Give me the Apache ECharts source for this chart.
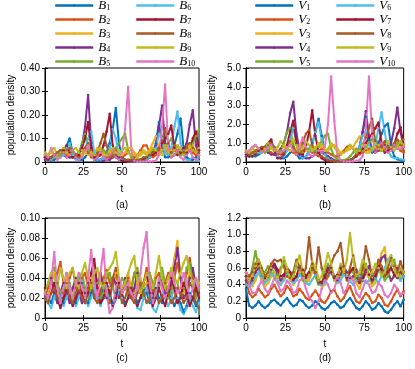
<!DOCTYPE html>
<html lang="en">
<head>
	<meta charset="UTF-8">
	<title>population density</title>
	<style>
		html, body { margin: 0; padding: 0; background: #fff; }
		#box { width: 415px; height: 369px; }
	</style>
</head>
<body>
	<div id="box"></div>
	<script src="https://cdn.jsdelivr.net/npm/echarts@6/dist/echarts.min.js"></script>
	<script>
		// time points
		var T = [0,2,4,6,8,10,12,14,16,18,20,22,24,26,28,30,32,34,36,38,40,42,44,46,48,50,52,54,56,58,60,62,64,66,68,70,72,74,76,78,80,82,84,86,88,90,92,94,96,98,100];

		// (a) B, first case
		var a1 = [0.02,0.01,0.005,0.01,0.02,0.03,0.04,0.07,0.10,0.04,0.02,0.01,0.01,0.02,0.04,0.03,0.01,0.005,0.01,0.02,0.04,0.08,0.14,0.23,0.08,0.02,0.01,0.005,0.003,0.002,0.002,0.003,0.005,0.01,0.02,0.03,0.08,0.17,0.06,0.02,0.02,0.04,0.07,0.12,0.185,0.06,0.02,0.01,0.01,0.02,0.03];
		var a2 = [0.03,0.02,0.01,0.02,0.03,0.04,0.05,0.03,0.02,0.02,0.03,0.04,0.05,0.06,0.04,0.02,0.02,0.03,0.05,0.04,0.02,0.02,0.03,0.05,0.03,0.02,0.03,0.04,0.03,0.02,0.03,0.05,0.07,0.07,0.04,0.02,0.03,0.05,0.06,0.04,0.03,0.05,0.07,0.05,0.03,0.04,0.07,0.08,0.04,0.03,0.05];
		var a3 = [0.02,0.03,0.04,0.03,0.02,0.03,0.04,0.05,0.04,0.03,0.03,0.04,0.05,0.04,0.03,0.03,0.04,0.06,0.05,0.03,0.03,0.04,0.05,0.06,0.05,0.03,0.04,0.06,0.06,0.04,0.03,0.04,0.05,0.04,0.05,0.08,0.11,0.06,0.03,0.04,0.06,0.05,0.03,0.04,0.06,0.05,0.04,0.06,0.07,0.04,0.03];
		var a4 = [0.01,0.01,0.02,0.03,0.04,0.05,0.03,0.02,0.02,0.02,0.03,0.04,0.07,0.15,0.285,0.08,0.02,0.01,0.005,0.005,0.01,0.01,0.02,0.03,0.02,0.01,0.005,0.003,0.002,0.002,0.002,0.003,0.005,0.01,0.02,0.04,0.07,0.15,0.24,0.08,0.03,0.02,0.03,0.05,0.04,0.05,0.08,0.16,0.22,0.07,0.03];
		var a5 = [0.03,0.02,0.02,0.03,0.04,0.03,0.03,0.05,0.06,0.04,0.03,0.04,0.08,0.12,0.05,0.03,0.02,0.02,0.03,0.05,0.04,0.03,0.04,0.06,0.08,0.10,0.12,0.05,0.02,0.01,0.01,0.01,0.01,0.02,0.03,0.05,0.04,0.03,0.05,0.07,0.08,0.10,0.06,0.04,0.03,0.05,0.04,0.05,0.08,0.11,0.14];
		var a6 = [0.02,0.01,0.01,0.02,0.03,0.02,0.03,0.06,0.08,0.03,0.01,0.01,0.02,0.05,0.10,0.13,0.04,0.01,0.01,0.02,0.03,0.06,0.14,0.10,0.03,0.01,0.005,0.003,0.002,0.002,0.002,0.003,0.005,0.01,0.02,0.03,0.06,0.12,0.10,0.04,0.03,0.06,0.15,0.215,0.08,0.03,0.01,0.01,0.02,0.01,0.005];
		var a7 = [0.02,0.01,0.02,0.03,0.03,0.04,0.05,0.07,0.04,0.02,0.02,0.03,0.06,0.10,0.17,0.06,0.02,0.02,0.03,0.07,0.13,0.205,0.07,0.02,0.01,0.005,0.003,0.003,0.003,0.003,0.005,0.01,0.01,0.02,0.03,0.03,0.04,0.06,0.08,0.10,0.12,0.155,0.06,0.03,0.04,0.06,0.04,0.05,0.10,0.13,0.05];
		var a8 = [0.03,0.02,0.02,0.03,0.04,0.05,0.04,0.05,0.06,0.05,0.03,0.02,0.03,0.06,0.08,0.05,0.03,0.04,0.08,0.12,0.07,0.03,0.02,0.03,0.03,0.02,0.01,0.01,0.01,0.01,0.01,0.01,0.02,0.02,0.03,0.04,0.05,0.06,0.09,0.145,0.08,0.04,0.05,0.07,0.05,0.04,0.06,0.08,0.06,0.04,0.04];
		var a9 = [0.04,0.03,0.05,0.06,0.03,0.04,0.06,0.04,0.03,0.05,0.06,0.04,0.03,0.05,0.07,0.04,0.03,0.05,0.06,0.04,0.03,0.05,0.06,0.04,0.03,0.05,0.06,0.04,0.03,0.03,0.02,0.03,0.04,0.03,0.04,0.06,0.05,0.03,0.05,0.07,0.04,0.03,0.05,0.07,0.05,0.03,0.05,0.07,0.05,0.04,0.06];
		var a10 = [0.03,0.02,0.06,0.03,0.01,0.02,0.04,0.02,0.03,0.05,0.02,0.01,0.02,0.05,0.07,0.03,0.01,0.02,0.04,0.02,0.01,0.03,0.05,0.02,0.01,0.04,0.14,0.32,0.05,0.005,0.002,0.002,0.002,0.002,0.002,0.003,0.005,0.03,0.15,0.33,0.06,0.02,0.03,0.05,0.02,0.01,0.03,0.05,0.02,0.01,0.03];

		// (b) V, first case
		var b1 = [0.5,0.4,0.3,0.3,0.4,0.5,0.6,0.8,0.9,0.6,0.3,0.2,0.2,0.3,0.5,0.6,0.4,0.2,0.2,0.3,0.6,1.0,1.6,2.3,1.4,0.5,0.2,0.1,0.05,0.03,0.03,0.04,0.06,0.1,0.2,0.4,0.8,1.6,2.4,1.2,0.5,0.6,1.0,1.5,1.9,2.05,0.9,0.3,0.15,0.1,0.05];
		var b2 = [0.6,0.5,0.4,0.4,0.5,0.6,0.7,0.6,0.5,0.4,0.4,0.5,0.6,0.7,0.6,0.5,0.4,0.5,0.6,0.7,0.6,0.5,0.5,0.6,0.7,0.6,0.5,0.4,0.3,0.3,0.4,0.6,0.8,0.9,0.7,0.5,0.4,0.5,0.6,0.7,0.6,0.6,0.8,0.9,0.7,0.6,0.7,0.9,0.8,0.6,0.5];
		var b3 = [0.5,0.6,0.7,0.6,0.5,0.6,0.7,0.8,0.7,0.6,0.6,0.7,0.8,0.7,0.6,0.6,0.7,0.9,0.8,0.6,0.6,0.7,0.8,0.9,0.8,0.6,0.6,0.8,0.9,0.7,0.5,0.5,0.6,0.7,0.8,1.1,1.35,0.9,0.5,0.5,0.7,0.8,0.6,0.6,0.8,0.8,0.7,0.8,1.0,0.8,0.6];
		var b4 = [0.3,0.3,0.4,0.5,0.6,0.7,0.6,0.5,0.4,0.4,0.5,0.7,1.0,1.6,2.6,3.2,1.5,0.6,0.3,0.2,0.2,0.3,0.4,0.5,0.5,0.4,0.3,0.2,0.1,0.05,0.03,0.03,0.05,0.1,0.2,0.4,0.8,1.6,2.7,1.4,0.6,0.5,0.6,0.8,0.9,0.8,1.0,1.8,2.9,1.6,0.8];
		var b5 = [0.5,0.4,0.4,0.5,0.6,0.6,0.5,0.6,0.8,0.7,0.5,0.6,1.0,1.6,1.8,0.9,0.5,0.4,0.5,0.7,0.7,0.6,0.6,0.8,1.1,1.4,1.5,0.7,0.3,0.15,0.1,0.1,0.15,0.3,0.5,0.7,0.7,0.6,0.8,1.0,1.2,1.3,0.9,0.6,0.6,0.8,0.8,0.8,1.0,1.1,1.2];
		var b6 = [0.4,0.3,0.3,0.4,0.5,0.5,0.6,0.8,1.0,0.6,0.3,0.2,0.3,0.6,1.2,1.8,1.0,0.4,0.2,0.3,0.5,0.9,1.6,2.1,1.2,0.4,0.2,0.1,0.05,0.03,0.02,0.03,0.05,0.1,0.2,0.4,0.8,1.4,1.6,0.9,0.6,0.9,1.8,2.65,1.6,0.6,0.3,0.2,0.2,0.15,0.1];
		var b7 = [0.4,0.3,0.3,0.4,0.6,0.7,0.8,1.0,1.2,0.6,0.2,0.2,0.4,0.9,1.6,2.2,1.0,0.4,0.4,0.8,1.6,2.75,1.4,0.5,0.2,0.1,0.05,0.03,0.02,0.02,0.02,0.03,0.05,0.1,0.2,0.3,0.5,0.7,1.0,1.3,1.5,1.8,2.1,1.0,0.5,0.6,0.8,0.9,1.5,1.85,0.9];
		var b8 = [0.5,0.4,0.5,0.6,0.7,0.8,0.8,0.9,1.0,0.8,0.5,0.4,0.5,0.8,1.1,0.8,0.5,0.6,1.0,1.5,1.7,0.9,0.4,0.3,0.3,0.2,0.1,0.06,0.04,0.03,0.03,0.04,0.06,0.1,0.2,0.4,0.6,0.9,1.3,1.8,2.3,1.1,0.6,0.8,1.1,0.8,0.7,1.0,1.2,0.9,0.6];
		var b9 = [0.6,0.5,0.7,0.9,0.7,0.5,0.7,1.0,0.8,0.6,0.8,1.1,0.9,0.7,0.9,1.2,0.9,0.6,0.8,1.1,0.9,0.6,0.7,1.0,0.9,0.6,0.7,1.0,0.8,0.5,0.4,0.5,0.7,0.9,0.7,0.5,0.6,0.9,0.9,0.6,0.7,1.0,0.9,0.6,0.8,1.1,0.8,0.6,0.8,1.1,0.9];
		var b10 = [0.5,0.6,0.8,0.9,0.7,0.5,0.6,0.8,0.9,0.7,0.5,0.5,0.6,0.8,0.9,0.6,0.4,0.8,1.3,0.8,0.4,0.3,0.4,0.6,0.5,0.8,2.0,4.55,2.2,0.4,0.1,0.04,0.03,0.03,0.04,0.06,0.1,0.3,1.8,4.55,1.4,0.5,0.7,1.0,0.8,0.5,0.6,0.9,0.7,0.7,0.8];

		// (c) B, second case
		var c1 = [0.03,0.02,0.015,0.025,0.035,0.02,0.015,0.025,0.03,0.02,0.015,0.03,0.035,0.02,0.015,0.025,0.035,0.02,0.015,0.03,0.035,0.02,0.015,0.025,0.03,0.02,0.015,0.02,0.03,0.025,0.015,0.02,0.03,0.025,0.015,0.02,0.03,0.02,0.015,0.025,0.03,0.02,0.012,0.02,0.015,0.006,0.012,0.025,0.02,0.012,0.02];
		var c2 = [0.025,0.03,0.04,0.03,0.045,0.056,0.035,0.025,0.04,0.05,0.03,0.025,0.04,0.045,0.03,0.035,0.045,0.03,0.025,0.04,0.048,0.035,0.03,0.045,0.035,0.025,0.03,0.04,0.03,0.045,0.035,0.025,0.035,0.05,0.035,0.025,0.04,0.045,0.03,0.035,0.045,0.03,0.04,0.055,0.04,0.03,0.045,0.06,0.04,0.03,0.03];
		var c3 = [0.03,0.025,0.035,0.045,0.03,0.025,0.035,0.04,0.03,0.025,0.035,0.045,0.03,0.025,0.035,0.04,0.03,0.035,0.045,0.035,0.025,0.03,0.04,0.045,0.03,0.025,0.035,0.045,0.03,0.025,0.035,0.04,0.03,0.035,0.045,0.03,0.02,0.03,0.04,0.035,0.03,0.04,0.06,0.077,0.04,0.025,0.035,0.045,0.035,0.03,0.035];
		var c4 = [0.02,0.035,0.04,0.025,0.015,0.025,0.035,0.025,0.015,0.03,0.04,0.025,0.015,0.025,0.035,0.03,0.02,0.035,0.045,0.03,0.02,0.025,0.04,0.035,0.02,0.025,0.04,0.03,0.02,0.03,0.045,0.03,0.02,0.03,0.04,0.025,0.02,0.035,0.04,0.025,0.02,0.035,0.05,0.07,0.04,0.02,0.025,0.04,0.05,0.03,0.025];
		var c5 = [0.025,0.035,0.045,0.05,0.035,0.025,0.03,0.045,0.035,0.02,0.025,0.04,0.045,0.03,0.02,0.03,0.045,0.035,0.02,0.025,0.04,0.045,0.03,0.02,0.03,0.04,0.035,0.02,0.025,0.045,0.05,0.03,0.02,0.03,0.045,0.035,0.02,0.03,0.05,0.035,0.02,0.025,0.04,0.035,0.02,0.03,0.05,0.055,0.035,0.02,0.03];
		var c6 = [0.02,0.015,0.01,0.02,0.03,0.02,0.012,0.02,0.03,0.02,0.012,0.02,0.03,0.02,0.012,0.02,0.03,0.02,0.012,0.02,0.03,0.02,0.012,0.018,0.028,0.02,0.012,0.02,0.03,0.02,0.01,0.008,0.02,0.03,0.02,0.01,0.006,0.015,0.025,0.02,0.012,0.02,0.03,0.02,0.008,0.004,0.01,0.02,0.012,0.006,0.015];
		var c7 = [0.03,0.02,0.025,0.035,0.02,0.01,0.02,0.03,0.02,0.012,0.02,0.035,0.025,0.015,0.025,0.045,0.059,0.03,0.015,0.02,0.035,0.025,0.012,0.02,0.035,0.025,0.012,0.02,0.03,0.02,0.012,0.02,0.035,0.045,0.025,0.012,0.02,0.03,0.02,0.012,0.025,0.04,0.03,0.015,0.02,0.035,0.025,0.012,0.02,0.03,0.02];
		var c8 = [0.02,0.015,0.025,0.03,0.02,0.015,0.025,0.035,0.02,0.015,0.025,0.03,0.02,0.015,0.03,0.035,0.02,0.015,0.025,0.035,0.025,0.015,0.04,0.05,0.03,0.015,0.02,0.03,0.02,0.015,0.025,0.035,0.025,0.015,0.02,0.03,0.025,0.015,0.02,0.035,0.025,0.015,0.02,0.03,0.025,0.015,0.02,0.035,0.03,0.015,0.01];
		var c9 = [0.025,0.035,0.045,0.04,0.03,0.05,0.04,0.03,0.045,0.05,0.035,0.03,0.045,0.055,0.04,0.03,0.045,0.05,0.035,0.03,0.045,0.05,0.055,0.066,0.04,0.03,0.035,0.045,0.055,0.062,0.035,0.025,0.035,0.045,0.04,0.03,0.045,0.062,0.04,0.03,0.04,0.05,0.04,0.035,0.045,0.055,0.062,0.045,0.035,0.04,0.035];
		var c10 = [0.025,0.02,0.035,0.066,0.03,0.015,0.03,0.045,0.03,0.02,0.035,0.045,0.03,0.02,0.04,0.068,0.035,0.02,0.045,0.069,0.025,0.005,0.01,0.03,0.04,0.025,0.03,0.035,0.025,0.02,0.03,0.045,0.07,0.086,0.035,0.015,0.025,0.04,0.03,0.02,0.03,0.045,0.035,0.025,0.03,0.045,0.035,0.02,0.03,0.04,0.03];

		// (d) V, second case
		var d1 = [0.35,0.15,0.12,0.15,0.2,0.15,0.12,0.15,0.2,0.22,0.18,0.15,0.2,0.24,0.18,0.14,0.16,0.22,0.2,0.15,0.12,0.15,0.2,0.17,0.12,0.1,0.13,0.18,0.2,0.16,0.12,0.14,0.2,0.24,0.18,0.12,0.1,0.14,0.2,0.16,0.1,0.12,0.18,0.14,0.08,0.06,0.1,0.16,0.2,0.14,0.22];
		var d2 = [0.45,0.3,0.25,0.28,0.35,0.3,0.25,0.28,0.35,0.4,0.32,0.26,0.3,0.38,0.34,0.26,0.28,0.35,0.3,0.24,0.22,0.28,0.33,0.27,0.2,0.18,0.24,0.32,0.34,0.26,0.2,0.24,0.32,0.38,0.28,0.2,0.18,0.24,0.3,0.26,0.18,0.2,0.28,0.24,0.16,0.14,0.2,0.28,0.34,0.26,0.32];
		var d3 = [0.5,0.4,0.38,0.45,0.55,0.45,0.38,0.42,0.5,0.55,0.45,0.4,0.48,0.56,0.48,0.4,0.45,0.55,0.5,0.42,0.45,0.55,0.63,0.48,0.38,0.4,0.5,0.56,0.48,0.42,0.5,0.58,0.52,0.45,0.5,0.42,0.35,0.45,0.55,0.48,0.38,0.42,0.6,0.78,0.85,0.55,0.45,0.52,0.62,0.5,0.55];
		var d4 = [0.45,0.4,0.45,0.55,0.6,0.5,0.45,0.5,0.58,0.62,0.52,0.45,0.5,0.6,0.55,0.45,0.5,0.6,0.55,0.48,0.5,0.6,0.52,0.42,0.4,0.48,0.58,0.6,0.5,0.45,0.52,0.62,0.55,0.48,0.5,0.58,0.5,0.45,0.55,0.62,0.52,0.48,0.58,0.72,0.75,0.55,0.45,0.5,0.6,0.55,0.5];
		var d5 = [0.5,0.45,0.6,0.8,0.62,0.5,0.55,0.62,0.55,0.48,0.52,0.6,0.68,0.55,0.45,0.5,0.62,0.58,0.45,0.42,0.55,0.62,0.5,0.4,0.42,0.55,0.65,0.58,0.45,0.5,0.62,0.55,0.48,0.6,0.55,0.45,0.42,0.55,0.65,0.52,0.42,0.48,0.6,0.55,0.45,0.5,0.62,0.7,0.55,0.45,0.55];
		var d6 = [0.4,0.38,0.42,0.5,0.55,0.48,0.42,0.46,0.52,0.5,0.44,0.4,0.45,0.52,0.48,0.42,0.45,0.52,0.48,0.42,0.4,0.46,0.52,0.46,0.4,0.42,0.5,0.55,0.48,0.42,0.45,0.52,0.5,0.44,0.4,0.45,0.5,0.46,0.42,0.45,0.52,0.48,0.42,0.5,0.6,0.7,0.75,0.6,0.5,0.45,0.5];
		var d7 = [0.5,0.45,0.48,0.6,0.65,0.55,0.48,0.5,0.6,0.65,0.58,0.5,0.52,0.6,0.55,0.46,0.5,0.62,0.58,0.5,0.55,0.65,0.55,0.45,0.42,0.5,0.6,0.55,0.48,0.52,0.6,0.55,0.48,0.55,0.6,0.5,0.42,0.48,0.58,0.52,0.45,0.5,0.62,0.58,0.5,0.55,0.6,0.52,0.48,0.6,0.55];
		var d8 = [0.55,0.5,0.55,0.65,0.7,0.6,0.5,0.55,0.65,0.7,0.68,0.7,0.62,0.5,0.48,0.55,0.7,0.62,0.5,0.6,0.97,0.65,0.55,0.85,0.6,0.45,0.5,0.65,0.75,0.8,0.9,0.62,0.45,0.6,0.75,0.55,0.45,0.6,0.86,0.7,0.5,0.55,0.7,0.62,0.5,0.6,0.72,0.62,0.55,0.68,0.55];
		var d9 = [0.55,0.45,0.5,0.62,0.7,0.55,0.45,0.5,0.6,0.55,0.48,0.55,0.73,0.6,0.45,0.5,0.65,0.75,0.55,0.45,0.5,0.68,0.6,0.45,0.5,0.62,0.78,0.65,0.45,0.5,0.65,0.55,0.7,1.02,0.7,0.5,0.55,0.7,0.62,0.48,0.55,0.65,0.6,0.5,0.55,0.68,0.75,0.6,0.5,0.6,0.55];
		var d10 = [0.55,0.4,0.3,0.3,0.38,0.45,0.35,0.3,0.38,0.48,0.42,0.32,0.35,0.45,0.4,0.3,0.32,0.45,0.48,0.35,0.25,0.2,0.12,0.2,0.35,0.45,0.4,0.3,0.35,0.48,0.42,0.3,0.35,0.5,0.45,0.3,0.25,0.35,0.45,0.4,0.3,0.32,0.42,0.38,0.28,0.25,0.3,0.4,0.35,0.28,0.3];

		var namesB = ['B1','B2','B3','B4','B5','B6','B7','B8','B9','B10'];
		var namesV = ['V1','V2','V3','V4','V5','V6','V7','V8','V9','V10'];
		var colors = ['#0072BD','#D95319','#EDB120','#7E2F8E','#77AC30','#4DBEEE','#A2142F','#A65A22','#BCBD22','#E377C2'];

		var yMax = [0.4, 5, 0.1, 1.2];
		var yStep = [0.1, 1, 0.02, 0.2];
		var yDec = [2, 1, 2, 1];
		var tags = ['(a)', '(b)', '(c)', '(d)'];

		var panels = [
			{ names: namesB, data: [a1,a2,a3,a4,a5,a6,a7,a8,a9,a10] },
			{ names: namesV, data: [b1,b2,b3,b4,b5,b6,b7,b8,b9,b10] },
			{ names: namesB, data: [c1,c2,c3,c4,c5,c6,c7,c8,c9,c10] },
			{ names: namesV, data: [d1,d2,d3,d4,d5,d6,d7,d8,d9,d10] }
		];

		var grids = [
			{ left: 45, top: 68, width: 154, height: 94 },
			{ left: 246, top: 68, width: 158, height: 94 },
			{ left: 45, top: 218, width: 154, height: 100 },
			{ left: 246, top: 218, width: 158, height: 100 }
		];

		var sans = 'Liberation Sans';
		var serif = 'Liberation Serif';

		var xAxes = [], yAxes = [], series = [], graphics = [];

		grids.forEach(function(g, i) {
			g.show = true;
			g.borderColor = '#000';
			g.borderWidth = 1;
			g.containLabel = false;

			var tick = { show: true, inside: true, length: 3, lineStyle: { color: '#000', width: 1 } };
			var line = { show: true, lineStyle: { color: '#000', width: 1 } };

			xAxes.push({
				type: 'value', gridIndex: i, min: 0, max: 100, interval: 25,
				axisLine: line, axisTick: tick, splitLine: { show: false },
				axisLabel: { color: '#000', fontSize: 10, fontFamily: sans, margin: 5 },
				name: 't', nameLocation: 'middle', nameGap: i < 2 ? 22 : 21,
				nameTextStyle: { color: '#000', fontSize: 10, fontFamily: sans }
			});
			xAxes.push({
				type: 'value', gridIndex: i, position: 'top', min: 0, max: 100, interval: 25,
				axisLine: line, axisTick: tick, splitLine: { show: false }, axisLabel: { show: false }
			});

			var dec = yDec[i];
			yAxes.push({
				type: 'value', gridIndex: i, min: 0, max: yMax[i], interval: yStep[i],
				axisLine: line, axisTick: tick, splitLine: { show: false },
				axisLabel: {
					color: '#000', fontSize: 10, fontFamily: sans, margin: 5,
					formatter: function(v) { return v === 0 ? '0' : v.toFixed(dec); }
				},
				name: 'population density', nameLocation: 'middle', nameGap: 29,
				nameTextStyle: { color: '#000', fontSize: 10, fontFamily: sans }
			});
			yAxes.push({
				type: 'value', gridIndex: i, position: 'right', min: 0, max: yMax[i], interval: yStep[i],
				axisLine: line, axisTick: tick, splitLine: { show: false }, axisLabel: { show: false }
			});

			panels[i].data.forEach(function(vals, k) {
				series.push({
					name: panels[i].names[k],
					type: 'line',
					xAxisIndex: 2 * i,
					yAxisIndex: 2 * i,
					data: T.map(function(t, j) { return [t, vals[j]]; }),
					symbol: 'circle',
					symbolSize: 2.5,
					showSymbol: true,
					color: colors[k],
					lineStyle: { width: 2, color: colors[k] },
					itemStyle: { color: colors[k] },
					clip: true
				});
			});

			graphics.push({
				type: 'text',
				x: g.left + g.width / 2,
				y: i < 2 ? 205 : 358,
				style: { text: tags[i], align: 'center', verticalAlign: 'middle', fontSize: 10, fontFamily: sans, fill: '#000' }
			});
		});

		// legend label: italic letter with a subscript number
		function legendFmt(name) {
			return '{m|' + name.charAt(0) + '}{s|' + name.slice(1) + '}';
		}
		var legendText = {
			color: '#000',
			rich: {
				m: { fontFamily: serif, fontStyle: 'italic', fontSize: 13, lineHeight: 12, color: '#000' },
				s: { fontFamily: serif, fontSize: 8, lineHeight: 7, verticalAlign: 'bottom', color: '#000' }
			}
		};
		function makeLegend(left, names) {
			return {
				left: left, top: -1, orient: 'vertical', padding: 0,
				itemWidth: 38, itemHeight: 3, itemGap: 1,
				data: names, formatter: legendFmt, textStyle: legendText,
				lineStyle: { width: 2.5 },
				selectedMode: false
			};
		}

		var myChart = echarts.init(document.getElementById('box'));
		myChart.setOption({
			animation: false,
			backgroundColor: '#fff',
			legend: [
				makeLegend(54, namesB.slice(0, 5)),
				makeLegend(135, namesB.slice(5)),
				makeLegend(254, namesV.slice(0, 5)),
				makeLegend(335, namesV.slice(5))
			],
			grid: grids,
			xAxis: xAxes,
			yAxis: yAxes,
			series: series,
			graphic: graphics
		});
	</script>
</body>
</html>
